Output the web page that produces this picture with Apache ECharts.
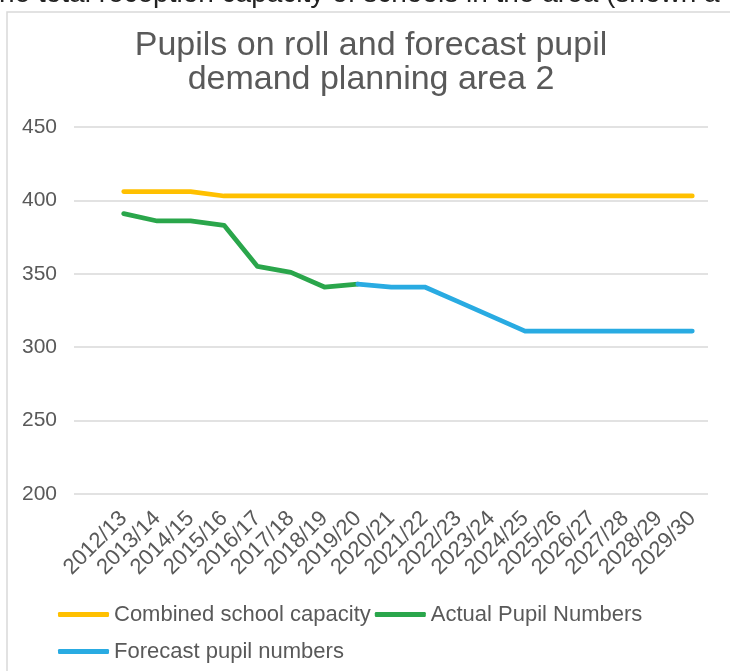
<!DOCTYPE html>
<html>
<head>
<meta charset="utf-8">
<script src="https://cdn.jsdelivr.net/npm/echarts@6/dist/echarts.min.js"></script>
<style>
  html, body { margin: 0; padding: 0; background: #ffffff; }
  #chart { width: 730px; height: 671px; }
</style>
</head>
<body>
<div id="chart"></div>
<script>
// ---- Data ----
const categories = ['2012/13','2013/14','2014/15','2015/16','2016/17','2017/18','2018/19','2019/20','2020/21',
  '2021/22','2022/23','2023/24','2024/25','2025/26','2026/27','2027/28','2028/29','2029/30'];
const capacity = [406,406,406,403,403,403,403,403,403,403,403,403,403,403,403,403,403,403];
const actualPupils = [391,386,386,383,355,351,341,343,null,null,null,null,null,null,null,null,null,null];
const forecastPupils = [null,null,null,null,null,null,null,343,341,341,331,321,311,311,311,311,311,311];
const yTicks = { min: 200, max: 450, interval: 50 };
const seriesNames = ['Combined school capacity', 'Actual Pupil Numbers', 'Forecast pupil numbers'];
const titleText = 'Pupils on roll and forecast pupil\ndemand planning area 2';
const headerText = 'he total reception capacity of schools in the area (shown a';

const FONT = "'Liberation Sans', Arial, Helvetica, sans-serif";
const TXT = '#595959';
const colors = ['#FFC000', '#2AA64B', '#29ABE2'];

const chart = echarts.init(document.getElementById('chart'), null, { renderer: 'canvas' });

function lineSeries(name, data, color) {
  return {
    name, type: 'line', data,
    xAxisIndex: 1, yAxisIndex: 1,
    symbol: 'none', showSymbol: false,
    connectNulls: false,
    lineStyle: { color, width: 4.75, cap: 'round', join: 'round' },
    itemStyle: { color },
    emphasis: { disabled: true },
    animation: false
  };
}

const option = {
  animation: false,
  textStyle: { fontFamily: FONT },
  graphic: [
    { type: 'rect', shape: { x: 7, y: 12, width: 800, height: 700 },
      style: { fill: '#ffffff', stroke: '#d9d9d9', lineWidth: 1.5 }, z: -10, silent: true },
    { type: 'text', x: -1, y: -6,
      style: { text: headerText, fontSize: 28, fontFamily: FONT, fill: '#222222', verticalAlign: 'middle', align: 'left' },
      silent: true }
  ],
  title: {
    text: titleText,
    left: 371, top: 29, padding: 0,
    textAlign: 'center',
    textStyle: { fontSize: 34, fontWeight: 'normal', color: TXT, lineHeight: 34, fontFamily: FONT }
  },
  legend: {
    data: seriesNames,
    left: 58, top: 598, width: 620, padding: 0,
    itemWidth: 51, itemHeight: 5, itemGap: 4,
    icon: 'roundRect',
    textStyle: { fontSize: 22, color: TXT, lineHeight: 33, fontFamily: FONT },
    selectedMode: false
  },
  grid: [
    { left: 74, right: 22, top: 127, bottom: 177, containLabel: false },
    { left: 107, right: 21, top: 127, bottom: 177, containLabel: false }
  ],
  xAxis: [
    { gridIndex: 0, type: 'category', data: categories, show: false },
    { gridIndex: 1, type: 'category', data: categories, boundaryGap: true,
      axisLine: { show: false }, axisTick: { show: false },
      axisLabel: { interval: 0, rotate: 45, fontSize: 22, color: TXT, margin: 21, fontFamily: FONT } }
  ],
  yAxis: [
    { gridIndex: 0, type: 'value', min: yTicks.min, max: yTicks.max, interval: yTicks.interval,
      axisLine: { show: false }, axisTick: { show: false },
      axisLabel: { fontSize: 21, color: TXT, margin: 17, fontFamily: FONT },
      splitLine: { lineStyle: { color: '#d9d9d9', width: 1.5 } } },
    { gridIndex: 1, type: 'value', min: yTicks.min, max: yTicks.max, interval: yTicks.interval,
      show: false, splitLine: { show: false } }
  ],
  series: [
    lineSeries(seriesNames[0], capacity, colors[0]),
    lineSeries(seriesNames[1], actualPupils, colors[1]),
    lineSeries(seriesNames[2], forecastPupils, colors[2])
  ]
};
chart.setOption(option);
</script>
</body>
</html>
